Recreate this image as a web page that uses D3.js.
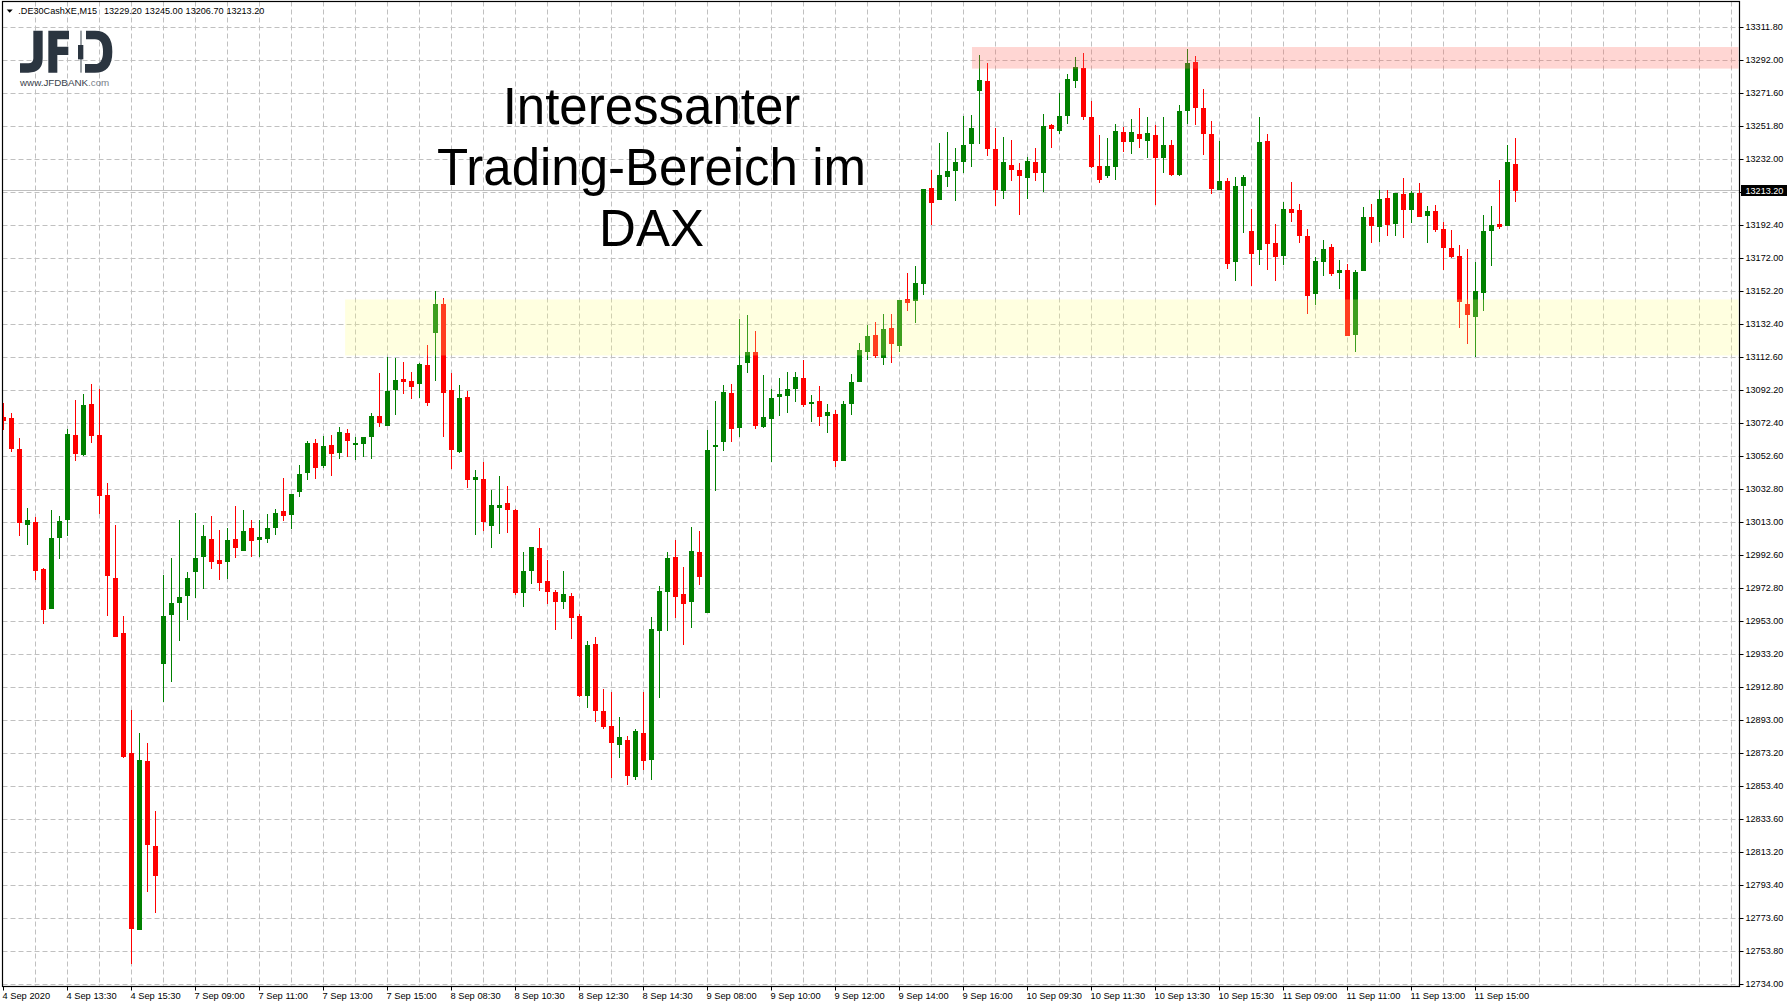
<!DOCTYPE html>
<html><head><meta charset="utf-8">
<script src="https://cdn.jsdelivr.net/npm/d3@7/dist/d3.min.js"></script>
<style>
html,body{margin:0;padding:0;background:#fff;overflow:hidden}
text{font-family:"Liberation Sans",Arial,sans-serif}
</style></head><body><script>
const symbolLabel=".DE30CashXE,M15";
const headerValues=["13229.20","13245.00","13206.70","13213.20"];
const titleLines=["Interessanter","Trading-Bereich im","DAX"];
const priceTicks=["13311.80","13292.00","13271.60","13251.80","13232.00","13212.20","13192.40","13172.00","13152.20","13132.40","13112.60","13092.20","13072.40","13052.60","13032.80","13013.00","12992.60","12972.80","12953.00","12933.20","12912.80","12893.00","12873.20","12853.40","12833.60","12813.20","12793.40","12773.60","12753.80","12734.00"];
const timeTicks=["4 Sep 2020","4 Sep 13:30","4 Sep 15:30","7 Sep 09:00","7 Sep 11:00","7 Sep 13:00","7 Sep 15:00","8 Sep 08:30","8 Sep 10:30","8 Sep 12:30","8 Sep 14:30","9 Sep 08:00","9 Sep 10:00","9 Sep 12:00","9 Sep 14:00","9 Sep 16:00","10 Sep 09:30","10 Sep 11:30","10 Sep 13:30","10 Sep 15:30","11 Sep 09:00","11 Sep 11:00","11 Sep 13:00","11 Sep 15:00"];
const lastPrice=13213.2;
const opens=[13076.8,13076.0,13057.3,13011.4,13013.3,12984.9,12960.7,13003.6,13014.5,13065.8,
13053.7,13084.5,13065.8,13029.6,12979.5,12946.3,12873.8,12766.9,12869.0,12817.6,
12927.5,12957.1,12964.4,12968.6,12983.1,12992.1,13003.0,12990.3,12989.1,13003.0,
12995.8,13009.6,13002.4,13003.0,13009.6,13019.9,13017.5,13031.4,13042.9,13061.0,
13047.1,13059.8,13054.9,13067.0,13059.8,13060.4,13064.6,13077.3,13071.2,13093.0,
13099.6,13098.4,13096.6,13108.0,13127.4,13144.9,13093.0,13055.5,13088.7,13038.6,
13039.2,13010.8,13021.7,13024.7,13020.5,12970.4,12983.7,12997.5,12977.6,12971.0,
12964.9,12968.6,12956.5,12908.2,12939.6,12899.1,12890.1,12878.6,12881.6,12859.3,
12885.9,12869.6,12947.4,12971.0,12992.1,12969.8,12964.9,12995.1,12958.3,13058.5,
13061.5,13091.1,13070.0,13109.2,13115.9,13070.6,13075.4,13088.7,13089.3,13093.5,
13100.2,13084.5,13086.3,13077.3,13078.4,13050.1,13084.5,13097.8,13115.9,13126.1,
13112.3,13130.4,13119.5,13147.9,13146.7,13156.9,13214.9,13207.7,13221.5,13225.2,
13230.6,13241.5,13273.5,13279.5,13238.5,13213.1,13228.8,13225.8,13220.9,13230.6,
13224.0,13252.9,13249.3,13258.4,13279.5,13287.4,13257.8,13228.2,13222.2,13227.6,
13248.7,13242.7,13247.5,13243.3,13246.9,13233.0,13240.9,13222.8,13261.4,13291.0,
13263.2,13247.5,13213.7,13219.1,13170.2,13216.1,13188.9,13177.4,13243.2,13181.7,
13173.8,13202.2,13201.6,13185.9,13150.9,13170.2,13179.3,13163.6,13165.4,13126.1,
13164.8,13197.4,13191.3,13208.8,13193.1,13211.3,13201.6,13211.9,13198.0,13201.0,
13190.1,13178.6,13173.8,13144.8,13137.0,13151.5,13188.9,13193.1,13191.9,13229.2];
const highs=[13084.9,13079.3,13064.0,13021.7,13016.3,12985.5,13020.5,13016.9,13069.4,13086.9,
13090.5,13096.6,13093.6,13036.8,13011.5,12956.5,12899.8,12885.9,12879.8,12838.8,
12981.3,12991.5,13014.5,12983.1,13018.7,13011.4,13016.9,13008.4,13009.6,13022.9,
13020.5,13014.5,13014.5,13018.1,13021.1,13039.8,13030.2,13047.7,13062.2,13063.4,
13065.2,13065.8,13070.6,13069.4,13064.6,13064.6,13079.1,13103.2,13112.9,13112.3,
13109.8,13103.8,13109.2,13120.1,13152.7,13148.5,13103.2,13096.0,13092.3,13044.6,
13049.5,13032.6,13041.0,13035.0,13021.1,12995.1,12998.1,13009.6,12990.3,12972.2,
12983.7,12970.4,12957.7,12941.4,12943.8,12912.4,12910.6,12895.5,12884.0,12888.3,
12910.6,12955.9,12974.6,12995.1,13002.4,12986.1,13010.2,13007.8,13068.8,13086.3,
13096.0,13096.6,13135.8,13138.2,13128.6,13102.0,13093.5,13100.2,13103.8,13103.8,
13111.1,13089.9,13095.4,13084.5,13080.9,13086.3,13102.6,13121.3,13132.2,13134.0,
13138.8,13138.8,13147.3,13163.6,13167.8,13214.3,13225.8,13242.1,13248.7,13239.1,
13258.4,13259.0,13295.2,13290.4,13251.1,13245.7,13243.9,13230.0,13233.6,13239.1,
13259.6,13253.5,13272.3,13283.7,13294.0,13296.4,13267.4,13246.9,13245.1,13253.5,
13251.7,13256.6,13263.2,13257.8,13252.9,13257.8,13243.9,13265.0,13298.8,13294.6,
13274.7,13255.4,13243.2,13220.9,13221.5,13222.7,13202.2,13257.7,13247.5,13193.1,
13206.4,13218.5,13205.2,13190.1,13173.2,13183.5,13181.1,13171.4,13169.0,13165.4,
13203.4,13205.2,13213.7,13213.7,13211.9,13220.9,13213.1,13217.9,13204.0,13204.6,
13194.3,13189.5,13180.5,13178.0,13170.2,13198.6,13204.0,13219.7,13240.8,13245.0];
const lows=[13068.8,13055.5,13004.8,12999.4,12978.2,12951.7,12960.7,12990.9,13004.8,13050.1,
13053.1,13061.0,13018.1,12956.5,12943.8,12870.9,12746.4,12766.9,12789.9,12777.2,
12904.6,12916.9,12941.4,12954.1,12967.4,12972.8,12984.9,12978.2,12978.9,12991.5,
12995.8,12992.1,12992.1,13000.6,13005.4,13013.9,13009.0,13028.4,13038.6,13039.2,
13045.9,13041.0,13051.3,13052.5,13050.7,13052.5,13051.3,13070.6,13071.2,13077.9,
13090.5,13087.5,13087.9,13083.3,13098.4,13064.6,13045.2,13054.9,13033.8,13005.4,
13007.8,12997.5,13006.0,13006.6,12969.2,12961.9,12975.8,12971.6,12963.7,12948.0,
12960.7,12942.6,12907.6,12900.9,12892.5,12888.3,12858.7,12870.8,12854.5,12857.5,
12863.5,12857.5,12907.0,12947.4,12955.3,12939.0,12949.2,12975.2,12958.3,13032.0,
13056.1,13061.5,13064.6,13103.2,13069.4,13070.0,13049.5,13077.3,13079.1,13085.7,
13082.7,13073.6,13071.2,13067.0,13046.5,13050.1,13077.9,13097.8,13111.1,13112.3,
13108.0,13109.2,13115.9,13140.6,13133.4,13150.3,13192.6,13207.7,13215.5,13207.1,
13224.0,13227.6,13241.5,13234.2,13204.0,13208.3,13219.1,13198.6,13208.3,13219.1,
13212.5,13239.1,13247.5,13253.5,13275.3,13256.0,13227.0,13217.9,13220.9,13219.7,
13236.6,13235.4,13239.1,13233.0,13204.6,13224.0,13222.2,13222.2,13253.5,13252.9,
13234.8,13211.3,13213.7,13166.0,13158.7,13187.7,13155.7,13168.4,13165.4,13158.7,
13168.4,13194.3,13181.7,13138.8,13144.3,13161.8,13161.8,13153.9,13125.5,13115.9,
13164.8,13181.7,13182.3,13185.9,13185.9,13184.7,13193.7,13197.4,13181.7,13188.3,
13165.4,13172.6,13130.3,13120.7,13112.8,13140.6,13167.8,13190.1,13191.9,13206.7];
const closes=[13074.4,13057.3,13012.6,13014.5,12983.7,12960.1,13003.6,13013.9,13066.4,13054.3,
13083.9,13065.2,13029.0,12980.7,12943.8,12871.4,12767.5,12869.6,12818.2,12799.5,
12956.5,12964.4,12968.0,12979.5,12991.5,13004.8,12989.1,12987.9,13002.4,12997.6,
13007.8,13001.8,13004.2,13009.6,13018.7,13016.9,13030.2,13042.2,13061.0,13045.9,
13059.2,13054.3,13067.6,13062.2,13061.0,13064.6,13077.3,13073.0,13092.3,13099.0,
13097.8,13094.8,13108.6,13085.1,13144.9,13091.1,13056.7,13088.1,13038.6,13040.4,
13013.2,13023.5,13023.5,13020.5,12970.4,12983.7,12998.1,12976.4,12971.0,12964.9,
12969.8,12955.3,12908.2,12939.0,12899.1,12889.5,12879.8,12883.4,12859.9,12887.1,
12868.9,12948.6,12971.6,12991.5,12968.0,12963.7,12995.7,12980.0,13056.7,13059.8,
13091.7,13069.4,13108.0,13115.9,13071.2,13076.6,13088.1,13090.5,13093.5,13100.8,
13083.9,13085.7,13076.6,13079.7,13050.1,13084.5,13097.8,13117.1,13125.5,13113.5,
13129.8,13120.7,13147.3,13145.5,13157.5,13214.3,13205.9,13222.8,13225.2,13230.6,
13240.9,13251.1,13280.1,13238.5,13213.7,13230.6,13225.8,13222.2,13231.2,13224.0,
13252.3,13250.5,13258.4,13280.7,13288.0,13257.8,13227.6,13219.7,13228.2,13249.3,
13242.7,13248.7,13244.5,13248.1,13233.0,13240.9,13222.8,13261.4,13290.4,13263.2,
13247.5,13214.3,13219.1,13169.0,13216.1,13221.5,13175.0,13242.6,13181.1,13173.2,
13202.2,13199.8,13185.9,13149.7,13170.8,13178.0,13163.0,13165.4,13125.5,13164.2,
13197.4,13191.9,13208.2,13192.5,13211.9,13201.6,13211.9,13197.4,13201.0,13189.5,
13178.6,13173.2,13146.0,13138.2,13152.7,13188.9,13192.5,13191.3,13230.6,13213.2];
// price zones: start bar index, upper and lower price
const resistanceZone=[121.06,13300.0,13287.0];
const supportZone=[42.7,13147.6,13113.8];

const W=1790,H=1008,L=2.5,R=1739.5,T=1.5,B=986.5;
const svg=d3.select("body").append("svg").attr("width",W).attr("height",H).style("display","block");
const x=d3.scaleLinear().domain([0,1]).range([3.5,11.5]);
const y=d3.scaleLinear().domain([13311.8,12734]).range([27.5,984.5]);
const yTick=d3.scalePoint().domain(priceTicks).range([27.5,984.5]);
const grey="#c0c0c0";
svg.append("clipPath").attr("id","plot").append("rect").attr("x",L).attr("y",T).attr("width",R-L).attr("height",B-T);

const maxBar=x.invert(R);
const gridBars=d3.range(4,maxBar,4);
const grid=svg.append("g").attr("stroke",grey).attr("stroke-width",1).attr("stroke-dasharray","5,3").attr("fill","none");
grid.selectAll(".v").data(gridBars).join("line").attr("x1",d=>x(d)).attr("x2",d=>x(d)).attr("y1",T).attr("y2",B);
grid.selectAll(".h").data(priceTicks).join("line").attr("x1",L).attr("x2",R).attr("y1",d=>yTick(d)).attr("y2",d=>yTick(d));

svg.append("line").attr("x1",L).attr("x2",R).attr("y1",Math.round(y(lastPrice))-.5).attr("y2",Math.round(y(lastPrice))-.5).attr("stroke",grey);

const bars=opens.map((o,i)=>({i,o,h:highs[i],l:lows[i],c:closes[i]}));
const colour=d=>d.c>=d.o?"#008000":"#ff0000";
const cg=svg.append("g").attr("clip-path","url(#plot)");
cg.selectAll(".w").data(bars).join("rect").attr("x",d=>x(d.i)-.5).attr("width",1)
  .attr("y",d=>Math.round(y(d.h))).attr("height",d=>Math.max(1,Math.round(y(d.l))-Math.round(y(d.h)))).attr("fill",colour);
cg.selectAll(".b").data(bars).join("rect").attr("x",d=>x(d.i)-2.5).attr("width",5)
  .attr("y",d=>Math.round(y(Math.max(d.o,d.c)))).attr("height",d=>Math.max(1,Math.round(y(Math.min(d.o,d.c)))-Math.round(y(Math.max(d.o,d.c))))).attr("fill",colour);

function zone(z,fill){
  svg.append("rect").attr("x",x(z[0])).attr("width",R-x(z[0])-1).attr("y",y(z[1])).attr("height",y(z[2])-y(z[1])).attr("fill",fill);
}
zone(resistanceZone,"rgba(255,108,96,0.28)");
zone(supportZone,"rgba(255,255,125,0.24)");

// frame
svg.append("rect").attr("x",L).attr("y",T).attr("width",R-L).attr("height",B-T).attr("fill","none").attr("stroke","#000").attr("stroke-width",1.2);

// axes
const yAxis=d3.axisRight(yTick).tickSize(4).tickPadding(2).offset(0);
const ya=svg.append("g").attr("transform",`translate(${R},0)`).call(yAxis);
ya.select(".domain").remove();
ya.selectAll("line").attr("stroke","#000");
ya.selectAll("text").attr("font-size",9.1).attr("fill","#000").attr("x",6).attr("font-family","Liberation Sans");
const xAxis=d3.axisBottom(x).tickValues(timeTicks.map((_,i)=>i*8)).tickFormat((d,i)=>timeTicks[i]).tickSize(4).tickPadding(2).offset(0);
const xa=svg.append("g").attr("transform",`translate(0,${B})`).call(xAxis);
xa.select(".domain").remove();
xa.selectAll("line").attr("stroke","#000");
xa.selectAll("text").attr("font-size",9.3).attr("fill","#000").attr("text-anchor","start").attr("dx",-1).attr("y",6).attr("dy","0.71em").attr("font-family","Liberation Sans");

// last price tag
const ly=y(lastPrice);
svg.append("rect").attr("x",1741).attr("y",Math.round(ly)-6).attr("width",46).attr("height",11).attr("fill","#000");
svg.append("text").attr("x",1745.5).attr("y",Math.round(ly)+3).attr("font-size",9.1).attr("fill","#fff").text(d3.format(".2f")(lastPrice));

// header
svg.append("path").attr("d","M6.7,9.5H12.7L9.7,12.7Z").attr("fill","#000");
svg.append("text").attr("x",18.3).attr("y",13.7).attr("font-size",9.1).attr("fill","#000").text(symbolLabel);
svg.selectAll(".hv").data(headerValues).join("text").attr("x",(d,i)=>104+i*40.8).attr("y",13.7).attr("font-size",9.1).attr("fill","#000").text(d=>d);

// logo
const logo=svg.append("g").attr("transform","scale(0.33333)").attr("fill","#2b3540");
logo.append("path").attr("d","M100,92H128V175Q128,218 85,218H60V190H85Q100,190 100,175Z");
logo.append("path").attr("d","M145,92H207V118H172V140H205V165H172V218H145Z");
logo.append("path").attr("d","M258,92H285Q337,92 337,155Q337,218 285,218H255V192H285Q309,192 309,155Q309,118 285,118H258Z");
logo.append("rect").attr("x",241).attr("y",92).attr("width",4).attr("height",126).attr("fill","#6d757c");
logo.append("rect").attr("x",234).attr("y",135).attr("width",16).attr("height",43);
const url=svg.append("text").attr("x",20).attr("y",85.5).attr("font-size",9.8).attr("fill","#3a434c");
url.append("tspan").text("www.JFDBANK");
url.append("tspan").attr("fill","#7a8188").text(".com");

// title
svg.selectAll(".t").data(titleLines).join("text").attr("x",651.5).attr("y",(d,i)=>124+i*61)
  .attr("text-anchor","middle").attr("font-size",51).attr("fill","#000").text(d=>d);
</script></body></html>
